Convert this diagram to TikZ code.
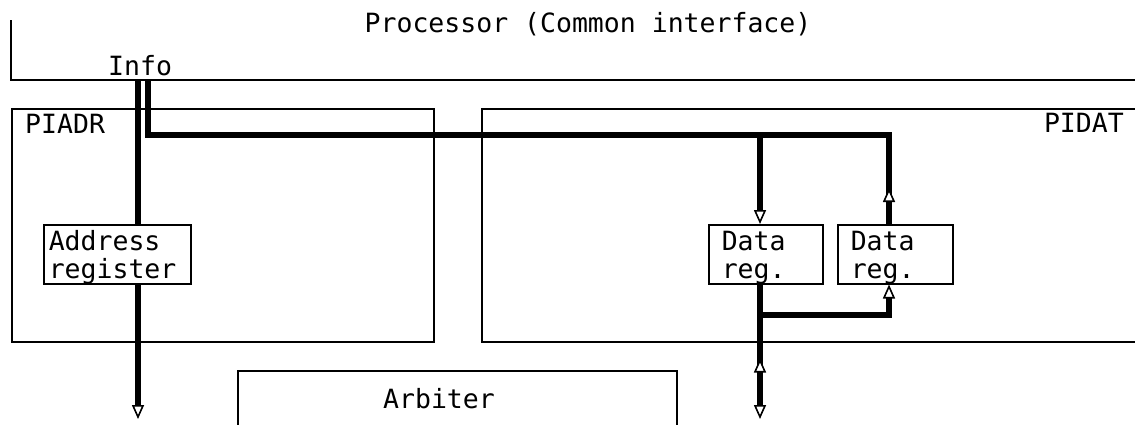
\documentclass[tikz,border=0pt]{standalone}
\usepackage{fontspec}
\setmainfont{DejaVu Sans Mono}
\usetikzlibrary{arrows.meta,decorations.markings}
\begin{document}
\begin{tikzpicture}[x=1pt,y=-1pt,
  frame/.style={draw, line width=1.5pt, inner sep=0pt},
  bus/.style={line width=6pt},
  lbl/.style={font=\fontsize{26.5}{28}\selectfont, inner sep=0pt},
  regbox/.style={frame, fill=white, anchor=north west, align=left,
    font=\fontsize{26.5}{28}\selectfont, minimum height=59pt,
    text height=25pt, text depth=32pt, inner ysep=0pt},
  Pix/.tip={Triangle[length=14pt,width=12pt,line width=1.6pt,fill=white]},
  upmark/.style={postaction={decorate}, decoration={markings,
    mark=at position #1 with {\arrowreversed{Pix}}}}
]
\useasboundingbox (0,0) rectangle (1135,424);
\clip (0,0) rectangle (1135,424);

% processor (common interface)
\draw[frame] (11,20) |- (1145,80);
\node[lbl, anchor=base] (proctitle) at (588,32) {Processor (Common interface)};
\node[lbl, anchor=base west] (info) at (108,75) {Info};
\coordinate (addrtop) at (138,80);
\coordinate (infotop) at (148,80);

% PIADR and PIDAT
\node[frame, anchor=north west, minimum width=422pt, minimum height=233pt] (piadr) at (11,108) {};
\node[lbl, anchor=base west] (piadrlbl) at (25,133) {PIADR};
\node[frame, anchor=north west, minimum width=700pt, minimum height=233pt] (pidat) at (481,108) {};
\node[lbl, anchor=base east] (pidatlbl) at (1124,132) {PIDAT};

% arbiter
\node[frame, anchor=north west, minimum width=439pt, minimum height=90pt] (arb) at (237,370) {};
\node[lbl, anchor=base] (arblbl) at (439,408) {Arbiter};

% address bus
\coordinate (addrbot) at (138,419);
\draw[bus, -{Pix}] (addrtop) -- (addrbot);
\node[regbox, minimum width=147pt, text width=137pt, inner xsep=5pt] (areg) at (43,224) {Address\\register};

% data registers
\node[regbox, minimum width=114pt, text width=88pt, inner xsep=13pt] (dreg1) at (708,224) {Data\\reg.};
\node[regbox, minimum width=115pt, text width=89pt, inner xsep=13pt] (dreg2) at (837,224) {Data\\reg.};

\coordinate (j1) at (760,135);
\coordinate (corner) at (889,135);
\coordinate (j2) at (760,315);
\coordinate (dbot) at (760,419);

\draw[bus, upmark=-36pt] (infotop) |- (corner) -- (dreg2.north -| corner);
\draw[bus, -{Pix}] (j1) -- (dreg1.north -| j1);
\draw[bus, -{Pix}, upmark=74pt] (dreg1.south -| j1) -- (dbot);
\draw[bus, -{Pix}] (j2) -| (dreg2.south -| corner);
\end{tikzpicture}
\end{document}
